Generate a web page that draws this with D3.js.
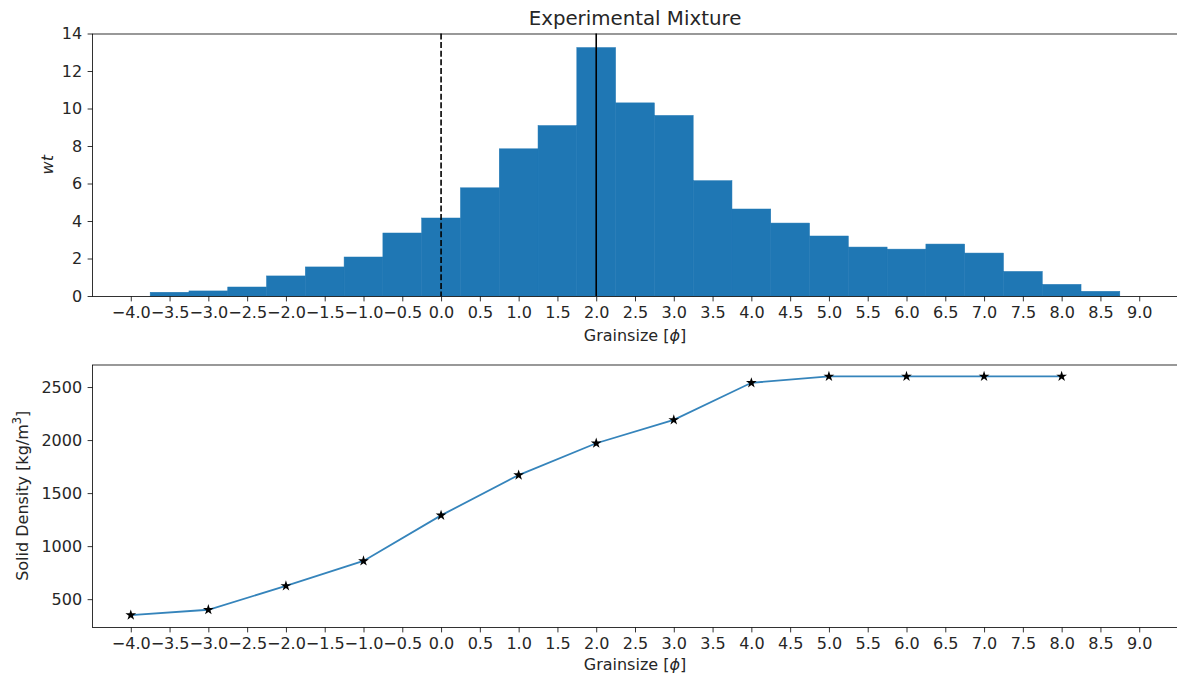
<!DOCTYPE html>
<head>
  <meta charset="utf-8">
  <title>Experimental Mixture</title>
  <script src="https://cdn.jsdelivr.net/npm/d3@7"></script>
  <style>
    body { margin: 0; background: #fff; }
    text { font-family: "DejaVu Sans", sans-serif; fill: #262626; }
  </style>
</head>

<body>
  <script type="text/javascript">
    var WIDTH = 1177;
    var HEIGHT = 679;

    // histogram: bin centres (phi) and weight percent
    var binCentres = [-3.5, -3.0, -2.5, -2.0, -1.5, -1.0, -0.5, 0.0, 0.5, 1.0, 1.5, 2.0, 2.5,
                      3.0, 3.5, 4.0, 4.5, 5.0, 5.5, 6.0, 6.5, 7.0, 7.5, 8.0, 8.5];
    var binWeights = [0.2, 0.27, 0.48, 1.07, 1.55, 2.08, 3.36, 4.16, 5.77, 7.85, 9.09, 13.25, 10.3,
                      9.63, 6.15, 4.64, 3.89, 3.2, 2.61, 2.5, 2.77, 2.29, 1.31, 0.62, 0.25];
    var binWidth = 0.5;
    var dashedLineAt = 0.0;
    var solidLineAt = 2.0;

    // solid density curve
    var densityPhi = [-4, -3, -2, -1, 0, 1, 2, 3, 4, 5, 6, 7, 8];
    var densityValues = [350, 400, 625, 860, 1290, 1670, 1970, 2190, 2540, 2600, 2600, 2600, 2600];

    var xTicks = d3.range(-4, 9.01, 0.5);
    var wtTicks = [0, 2, 4, 6, 8, 10, 12, 14];
    var densityTicks = [500, 1000, 1500, 2000, 2500];

    var LEFT = 92, RIGHT = 1178;
    var FS = "16px";
    var svg = d3.select("body").append("svg")
                .attr("width", WIDTH)
                .attr("height", HEIGHT);

    var x = d3.scaleLinear().domain([-4.5, 9.5]).range([LEFT, RIGHT]);
    var fmt = function(d){ return d3.format(".1f")(d).replace("-", "\u2212"); };

    function styleAxis(g){
      g.select(".domain").remove();
      g.selectAll(".tick line").attr("stroke", "#000").attr("stroke-width", 0.8);
      g.selectAll(".tick text").attr("font-size", FS).attr("fill", "#262626")
        .attr("font-family", "DejaVu Sans");
    }

    function frame(top, bottom){
      svg.append("rect")
         .attr("x", LEFT + 0.5).attr("y", top + 0.5)
         .attr("width", RIGHT - LEFT).attr("height", bottom - top)
         .attr("fill", "none").attr("stroke", "#000").attr("stroke-width", 0.8);
    }

    function xLabel(yPos){
      var t = svg.append("text")
                 .attr("x", (LEFT + RIGHT) / 2).attr("y", yPos)
                 .attr("text-anchor", "middle").attr("font-size", FS);
      t.append("tspan").text("Grainsize [");
      t.append("tspan").attr("font-style", "italic").text("\u03D5");
      t.append("tspan").text("]");
    }

    //=========== top: histogram
    var TOP1 = 33.5, BOT1 = 296;
    var y1 = d3.scaleLinear().domain([0, 14]).range([BOT1, TOP1]);

    svg.append("g").selectAll("rect")
       .data(binCentres)
       .enter().append("rect")
       .attr("x", function(d){ return x(d - binWidth / 2); })
       .attr("width", function(d){ return x(d + binWidth / 2) - x(d - binWidth / 2); })
       .attr("y", function(d, i){ return y1(binWeights[i]); })
       .attr("height", function(d, i){ return BOT1 - y1(binWeights[i]); })
       .attr("fill", "#1f77b4")
       .attr("stroke", "#1f77b4").attr("stroke-width", 0.5);

    svg.append("line")
       .attr("x1", x(dashedLineAt)).attr("x2", x(dashedLineAt))
       .attr("y1", TOP1).attr("y2", BOT1)
       .attr("stroke", "#000").attr("stroke-width", 1.6).attr("stroke-dasharray", "6,2.6");
    svg.append("line")
       .attr("x1", x(solidLineAt)).attr("x2", x(solidLineAt))
       .attr("y1", TOP1).attr("y2", BOT1)
       .attr("stroke", "#000").attr("stroke-width", 1.6);

    frame(TOP1, BOT1);

    svg.append("g").attr("transform", "translate(0," + (BOT1 + 0.5) + ")")
       .call(d3.axisBottom(x).tickValues(xTicks).tickFormat(fmt).tickSize(4.9).tickPadding(5))
       .call(styleAxis);
    svg.append("g").attr("transform", "translate(" + (LEFT + 0.5) + ",0)")
       .call(d3.axisLeft(y1).tickValues(wtTicks).tickFormat(d3.format("d")).tickSize(4.9).tickPadding(5.5))
       .call(styleAxis);

    svg.append("text")
       .attr("x", (LEFT + RIGHT) / 2).attr("y", 25)
       .attr("text-anchor", "middle").attr("font-size", "19.8px")
       .text("Experimental Mixture");

    svg.append("text")
       .attr("transform", "translate(53," + (TOP1 + BOT1) / 2 + ") rotate(-90)")
       .attr("text-anchor", "middle").attr("font-size", FS).attr("font-style", "italic")
       .text("wt");

    xLabel(341);

    //=========== bottom: solid density
    var TOP2 = 364.5, BOT2 = 627;
    var y2 = d3.scaleLinear().domain([237.5, 2712.5]).range([BOT2, TOP2]);

    var line = d3.line()
                 .x(function(d, i){ return x(densityPhi[i]); })
                 .y(function(d){ return y2(d); });

    svg.append("path")
       .datum(densityValues)
       .attr("d", line)
       .attr("fill", "none")
       .attr("stroke", "#1f77b4").attr("stroke-width", 1.8).attr("opacity", 0.9);

    var star = d3.symbol().type(d3.symbolStar).size(36);
    svg.append("g").selectAll("path")
       .data(densityValues)
       .enter().append("path")
       .attr("d", star)
       .attr("transform", function(d, i){
         return "translate(" + x(densityPhi[i]) + "," + y2(d) + ")";
       })
       .attr("fill", "#000");

    frame(TOP2, BOT2);

    svg.append("g").attr("transform", "translate(0," + (BOT2 + 0.5) + ")")
       .call(d3.axisBottom(x).tickValues(xTicks).tickFormat(fmt).tickSize(4.9).tickPadding(5))
       .call(styleAxis);
    svg.append("g").attr("transform", "translate(" + (LEFT + 0.5) + ",0)")
       .call(d3.axisLeft(y2).tickValues(densityTicks).tickFormat(d3.format("d")).tickSize(4.9).tickPadding(5.5))
       .call(styleAxis);

    var yl = svg.append("text")
                .attr("transform", "translate(28," + (TOP2 + BOT2) / 2 + ") rotate(-90)")
                .attr("text-anchor", "middle").attr("font-size", FS);
    yl.append("tspan").text("Solid Density [kg/m");
    yl.append("tspan").attr("font-size", "11.5px").attr("dy", -7).text("3");
    yl.append("tspan").attr("dy", 7).text("]");

    xLabel(670);
  </script>
</body>
